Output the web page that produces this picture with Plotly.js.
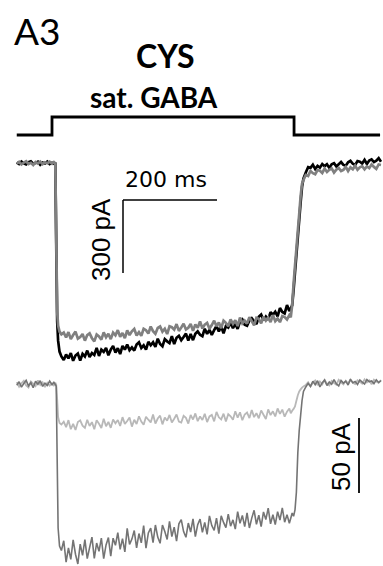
<!DOCTYPE html>
<html><head><meta charset="utf-8">
<script src="https://cdn.plot.ly/plotly-3.0.1.min.js"></script>
<style>html,body{margin:0;padding:0;background:#fff;overflow:hidden;} #chart{width:383px;height:566px;}</style>
</head><body><div id="chart"></div>
<script>
// time (ms) relative to GABA application onset
const timeMs = [-75,-70,-65,-60,-55,-50,-45,-40,-35,-30,-25,-20,-15,-10,-5,
  0,4,7,9,11,13,16,20,
  25,30,35,40,45,50,55,60,65,70, 75,80,85,90,95,100,105,110,115,120,
  125,130,135,140,145,150,155,160,165,170, 175,180,185,190,195,200,205,210,215,220,
  225,230,235,240,245,250,255,260,265,270, 275,280,285,290,295,300,305,310,315,320,
  325,330,335,340,345,350,355,360,365,370, 375,380,385,390,395,400,405,410,415,420,
  425,430,435,440,445,450,455,460,465,470, 475,480,485,490,495,500,505,
  508,511,514,517,520,523,526,529,532,535,
  540,545,550,555,560,565,570,575,580,585, 590,595,600,605,610,615,620,625,630,635,
  640,645,650,655,660,665,670,675,680,685, 690,695,700];

// top panel: current (pA), black trace
const cysBlack = [2,-4,6,-1,-6,3,7,-3,0,5,-7,2,-2,6,-4,
  1,-3,2,-330,-650,-730,-775,-795,
  -810,-787,-803,-781,-813,-791,-783,-812,-784,-795,
  -771,-797,-781,-789,-760,-793,-767,-776,-760,-790,
  -767,-752,-779,-761,-785,-752,-767,-746,-769,-758,
  -771,-746,-737,-760,-749,-767,-735,-749,-737,-756,
  -722,-744,-753,-724,-733,-740,-712,-744,-718,-710,
  -728,-715,-701,-730,-703,-728,-702,-692,-706,-712,
  -681,-702,-686,-706,-687,-670,-692,-672,-700,-670,
  -676,-656,-679,-661,-682,-652,-643,-665,-669,-647,
  -638,-651,-662,-632,-623,-645,-631,-644,-613,-624,
  -611,-630,-596,-612,-618,-584,-608,
  -598,-585,-522,-450,-378,-306,-234,-162,-98,-64,
  -39,-17,-20,-7,-25,-12,-19,-4,-13,-5,-20,-5,-1,-14,-5,4,-8,-11,3,9,
  -3,-8,8,5,-2,13,-4,10,15,4,10,20,5];

// top panel: current (pA), gray trace
const cysGray = [-3,5,-6,2,7,-4,1,-8,4,-2,6,-5,3,-1,5,
  -3,4,-2,-300,-610,-668,-693,-704,
  -697,-717,-695,-724,-707,-693,-722,-715,-703,-730,
  -707,-700,-720,-733,-705,-713,-726,-696,-716,-702,
  -724,-697,-708,-687,-714,-699,-720,-688,-707,-692,
  -682,-709,-695,-710,-681,-687,-701,-672,-691,-702,
  -678,-672,-693,-681,-703,-671,-675,-685,-662,-690,
  -676,-661,-684,-677,-661,-690,-664,-677,-651,-680,
  -664,-657,-681,-666,-648,-671,-655,-679,-648,-657,
  -671,-643,-661,-646,-670,-635,-659,-648,-660,-634,
  -650,-667,-636,-640,-659,-632,-648,-635,-654,-625,
  -650,-639,-654,-629,-633,-643,-625,
  -634,-584,-497,-423,-353,-280,-210,-136,-86,-70,
  -49,-53,-33,-42,-46,-29,-32,-41,-23,-37,-28,-22,-39,-27,-20,-33,-28,-16,-33,-18,
  -26,-11,-28,-18,-13,-26,-14,-21,-6,-16,-24,-6,-8];

// bottom panel: current (pA), light trace
const lowLight = [1.2,-1.8,0.5,2.1,-0.9,-2.3,1.6,0.2,-1.4,2.4,-0.6,1.1,-2.0,0.8,-1.1,
  0.4,-1.3,0.9,-0.5,-10,-22,-26,-27,
  -25.1,-28.8,-24.1,-30.1,-26.6,-30.6,-25.3,-24.2,-27.8,-29.2,
  -23.9,-28.0,-25.4,-30.1,-24.2,-26.5,-29.3,-23.1,-28.2,-25.3,
  -29.2,-23.7,-26.2,-24.0,-28.0,-22.1,-26.6,-24.7,-22.3,-28.4,
  -23.8,-26.7,-21.5,-25.1,-27.2,-21.8,-23.8,-25.6,-20.4,-26.4,
  -23.0,-21.1,-26.9,-22.3,-24.5,-20.6,-25.7,-23.2,-20.3,-25.0,
  -25.7,-21.2,-22.6,-26.4,-20.6,-23.7,-19.6,-24.8,-21.6,-24.0,
  -19.8,-25.4,-21.6,-20.6,-24.9,-18.6,-22.2,-23.6,-19.8,-25.0,
  -20.1,-21.5,-23.8,-18.2,-22.4,-18.9,-24.1,-20.3,-19.0,-22.7,
  -17.3,-22.1,-19.4,-22.9,-17.6,-20.5,-23.3,-16.9,-20.7,-18.2,
  -21.6,-16.3,-19.9,-17.1,-21.8,-18.4,-16.3,
  -19.5,-17.8,-16.6,-15.0,-11.2,-7.5,-5.0,-3.6,-2.4,-1.6,
  -0.6,1.2,-1.5,0.9,2.3,-0.8,1.7,-0.2,2.6,0.1,-1.0,2.0,0.6,-0.5,2.8,1.1,-0.3,2.2,0.4,3.0,
  0.8,-0.1,2.5,1.4,0.2,3.1,1.0,2.4,-0.2,2.9,1.6,0.7,2.7];

// bottom panel: current (pA), dark trace
const lowDark = [-0.8,1.5,-2.1,0.3,2.4,-1.2,0.9,-2.5,1.8,-0.2,2.2,-1.6,0.6,-0.9,1.9,
  -0.5,1.1,-0.3,-1.5,-50,-96,-108,-111,
  -104.5,-118.7,-109.2,-116.9,-103.9,-113.5,-120.0,-106.8,-114.2,-103.7,
  -116.4,-109.1,-102.1,-116.3,-106.0,-111.6,-102.8,-116.4,-107.3,-102.4,
  -114.8,-102.8,-107.5,-99.1,-110.2,-103.1,-111.9,-96.3,-106.9,-103.4,
  -97.7,-109.2,-99.7,-105.9,-94.4,-109.4,-99.3,-96.1,-105.7,-94.0,
  -102.1,-106.2,-94.0,-98.3,-103.6,-91.5,-101.7,-95.5,-104.8,-93.2,
  -90.4,-98.4,-102.2,-92.7,-98.7,-89.9,-101.8,-93.8,-90.1,-98.9,
  -92.3,-100.2,-87.9,-94.4,-97.6,-89.4,-99.8,-87.9,-92.3,-95.8,
  -86.8,-94.8,-90.6,-96.7,-85.1,-92.9,-87.6,-95.1,-85.9,-96.0,
  -89.4,-84.2,-93.5,-87.5,-95.0,-85.3,-90.4,-82.8,-93.2,-87.2,
  -93.7,-85.1,-90.7,-82.6,-92.1,-87.1,-92.8,
  -89.5,-86.0,-88.2,-84.0,-72.0,-46.0,-31.0,-21.0,-11.0,-5.0,
  -2.0,0.4,-1.6,1.8,-0.5,2.2,-1.9,0.8,2.6,-1.0,1.3,-0.2,2.9,0.1,-1.3,2.4,0.6,1.9,-0.7,3.1,
  0.9,1.6,-0.3,2.7,1.2,0.0,3.0,1.5,2.1,0.3,2.8,1.0,2.3];

// application step (sat. GABA)
const stepTime = [-75,0,0,515,515,698];
const stepOn = [0,0,1,1,0,0];

// scale bars
const barTimeMs = 200, barTopPA = 300, barLowPA = 50;

// ---------- layout geometry (pixels) ----------
const W = 383, H = 566;
const PX_PER_MS = 0.47, X_ONSET = 52;
const xRange = [-X_ONSET / PX_PER_MS, (W - X_ONSET) / PX_PER_MS];
function yRange(basePx, pxPerUnit) { return [(basePx - H) / pxPerUnit, basePx / pxPerUnit]; }
const topBase = 163, topK = 73 / 300;
const lowBase = 384, lowK = 75 / 50;
const stepBase = 135, stepK = 18;
const tOfPx = px => (px - X_ONSET) / PX_PER_MS;
const topOfPx = py => (topBase - py) / topK;
const lowOfPx = py => (lowBase - py) / lowK;

const traces = [
  {x: timeMs, y: cysBlack, yaxis: 'y', mode: 'lines', line: {color: '#000000', width: 2.7, simplify: false}},
  {x: timeMs, y: cysGray, yaxis: 'y', mode: 'lines', line: {color: '#808080', width: 2.7, simplify: false}},
  {x: timeMs, y: lowLight, yaxis: 'y2', mode: 'lines', line: {color: '#b8b8b8', width: 1.8, simplify: false}},
  {x: timeMs, y: lowDark, yaxis: 'y2', mode: 'lines', line: {color: '#747474', width: 1.6, simplify: false}},
  {x: stepTime, y: stepOn, yaxis: 'y3', mode: 'lines', line: {color: '#000000', width: 2.8, simplify: false}}
];

const tBar = tOfPx(123), iBar = topOfPx(200);
const tBar2 = tOfPx(359), iBar2 = lowOfPx(418);
const shapes = [
  {type: 'line', xref: 'x', yref: 'y', x0: tBar, x1: tBar + barTimeMs, y0: iBar, y1: iBar, line: {color: '#000', width: 1.5}},
  {type: 'line', xref: 'x', yref: 'y', x0: tBar, x1: tBar, y0: iBar, y1: iBar - barTopPA, line: {color: '#000', width: 1.5}},
  {type: 'line', xref: 'x', yref: 'y2', x0: tBar2, x1: tBar2, y0: iBar2, y1: iBar2 - barLowPA, line: {color: '#000', width: 1.8}}
];

const px = v => v / W, py = v => 1 - v / H;
const ann = (text, x, y, font, extra) => Object.assign({text, x: px(x), y: py(y), xref: 'paper', yref: 'paper',
  showarrow: false, xanchor: 'center', yanchor: 'middle', font: Object.assign({color: '#000'}, font)}, extra || {});
const annotations = [
  ann('A3', 12, 30, {family: 'Lato, Carlito, sans-serif', size: 37}, {xanchor: 'left'}),
  ann('<b>CYS</b>', 165, 55, {family: 'Lato, Carlito, sans-serif', size: 32}),
  ann('<b>sat. GABA</b>', 154, 96.5, {family: 'Lato, Carlito, sans-serif', size: 28}),
  ann(barTimeMs + ' ms', 166, 179.5, {family: 'DejaVu Sans, sans-serif', size: 22}),
  ann(barTopPA + ' pA', 101, 240, {family: 'Liberation Sans, Arial, sans-serif', size: 26}, {textangle: -90}),
  ann(barLowPA + ' pA', 341, 457, {family: 'Liberation Sans, Arial, sans-serif', size: 26}, {textangle: -90})
];

const hidden = {visible: false, fixedrange: true};
const layout = {
  width: W, height: H, margin: {l: 0, r: 0, t: 0, b: 0, pad: 0},
  paper_bgcolor: '#fff', plot_bgcolor: '#fff', showlegend: false,
  xaxis: Object.assign({range: xRange, domain: [0, 1]}, hidden),
  yaxis: Object.assign({range: yRange(topBase, topK), domain: [0, 1]}, hidden),
  yaxis2: Object.assign({range: yRange(lowBase, lowK), overlaying: 'y'}, hidden),
  yaxis3: Object.assign({range: yRange(stepBase, stepK), overlaying: 'y'}, hidden),
  shapes, annotations
};
Plotly.newPlot('chart', traces, layout, {staticPlot: true, displayModeBar: false});
</script></body></html>
